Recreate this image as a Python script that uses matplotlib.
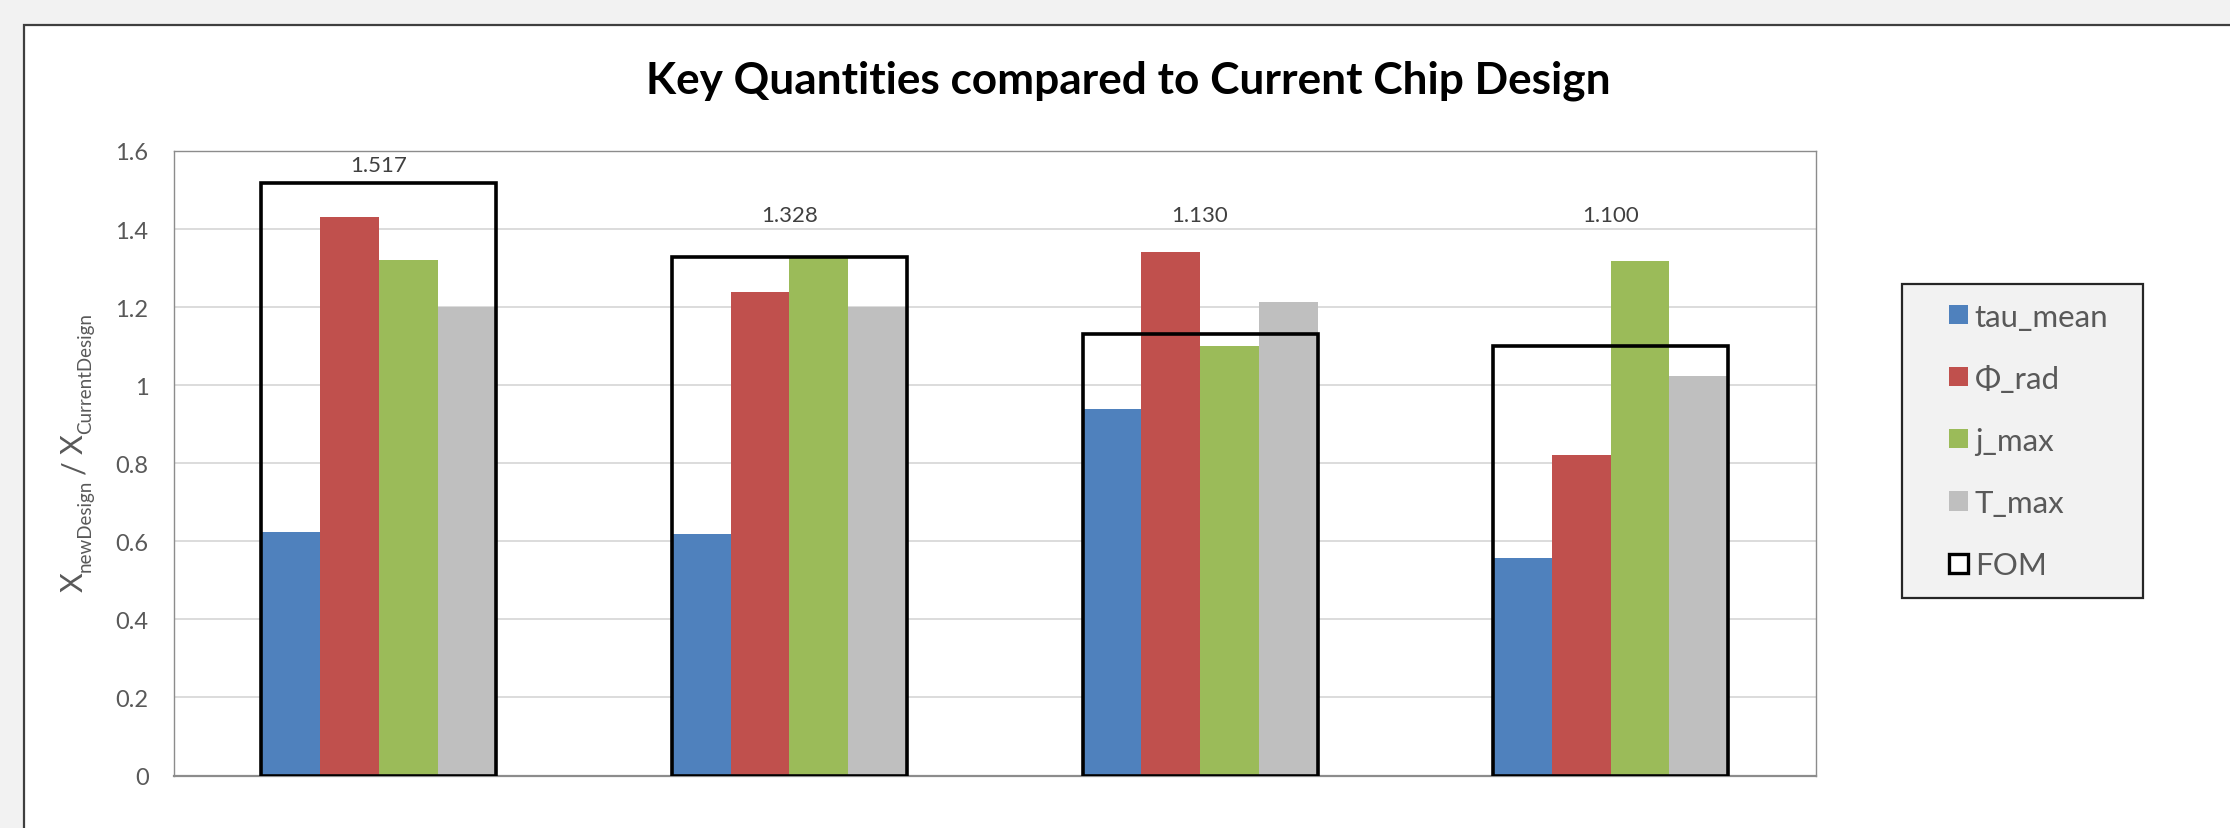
import numpy as np
import matplotlib.pyplot as plt
from matplotlib.patches import Rectangle, Patch
from matplotlib.legend_handler import HandlerPatch

plt.rcParams['font.family'] = ['Lato', 'DejaVu Sans']

# ratio of each quantity, new design / current design
series_names = ['tau_mean', 'Φ_rad', 'j_max', 'T_max']
tau_mean = [0.625, 0.620, 0.938, 0.558]
phi_rad = [1.432, 1.240, 1.342, 0.822]
j_max = [1.320, 1.325, 1.100, 1.317]
t_max = [1.200, 1.200, 1.213, 1.023]
fom = [1.517, 1.328, 1.130, 1.100]
yticks = [0, 0.2, 0.4, 0.6, 0.8, 1, 1.2, 1.4, 1.6]
ytick_labels = ['0', '0.2', '0.4', '0.6', '0.8', '1', '1.2', '1.4', '1.6']

colors = ['#4f81bd', '#c0504d', '#9bbb59', '#bfbfbf']
text_gray = '#595959'

W, H = 2230, 829
fig = plt.figure(figsize=(W / 100, H / 100), dpi=100, facecolor='#f2f2f2')

# white chart area with dark frame, running off the right and bottom edges
fig.patches.append(Rectangle((24 / W, -0.1), 1.2, (H - 26) / H + 0.1,
                             transform=fig.transFigure, facecolor='white',
                             edgecolor='#3f3f3f', linewidth=1.6, zorder=-5))

ax = fig.add_axes([173.5 / W, 52.5 / H, (1816 - 173.5) / W, (776.5 - 152) / H])
ax.set_facecolor('white')

x = np.arange(len(fom))
bw = 0.143
for i, (vals, c) in enumerate(zip([tau_mean, phi_rad, j_max, t_max], colors)):
    ax.bar(x + (i - 1.5) * bw, vals, width=bw, color=c, zorder=2)

# FOM drawn as an open box around each group
ax.bar(x, fom, width=4 * bw, facecolor='none', edgecolor='black',
       linewidth=2.6, zorder=3)
for xi, f in zip(x, fom):
    ax.text(xi, max(f + 0.022, 1.41), f'{f:.3f}', ha='center', va='bottom',
            fontsize=16, color='#404040', zorder=4)

ax.set_xlim(-0.5, 3.5)
ax.set_ylim(0, 1.6)
ax.set_xticks([])
ax.set_yticks(yticks)
ax.set_yticklabels(ytick_labels)
ax.tick_params(axis='y', length=0, pad=18, labelsize=17, labelcolor=text_gray)
ax.yaxis.grid(True, color='#d9d9d9', linewidth=1.3, zorder=0)
ax.set_axisbelow(True)
for s in ax.spines.values():
    s.set_color('#8c8c8c')
    s.set_linewidth(1.0)
ax.spines['bottom'].set_linewidth(1.6)

# y label built piece by piece so the subscripts can be small and dropped
# (text, size in pt, baseline drop px, gap after px)
renderer = fig.canvas.get_renderer()
label_parts = [('X', 22, 0, 0), ('newDesign', 13.5, 8, 6), ('/', 22, 0, 6),
               ('X', 22, 0, 0), ('CurrentDesign', 13.5, 8, 0)]
base_x, pos_y = 83, 592
for s, size, drop, gap in label_parts:
    t = fig.text((base_x + drop) / W, 1 - pos_y / H, s, rotation=90,
                 rotation_mode='anchor', ha='left', va='baseline',
                 fontsize=size, color=text_gray)
    pos_y -= t.get_window_extent(renderer).height + gap

fig.text(1128 / W, 1 - 81 / H, 'Key Quantities compared to Current Chip Design',
         ha='center', va='center', fontsize=31.8, fontweight='bold', color='black')


def square_handle(legend, orig_handle, xdescent, ydescent, width, height, fontsize):
    # small square sitting at the right end of the handle slot
    sq = 13.7
    return Rectangle((-xdescent + width - sq, -ydescent + (height - sq) / 2), sq, sq)


handles = [Patch(facecolor=c) for c in colors]
handles.append(Patch(facecolor='white', edgecolor='black', linewidth=2.4))
leg = fig.legend(handles, series_names + ['FOM'], loc='upper left',
                 bbox_to_anchor=(1902 / W, (H - 603) / H, 241 / W, 318 / H),
                 mode='expand', borderaxespad=0,
                 fontsize=22.5, frameon=True, fancybox=False, framealpha=1,
                 facecolor='#f2f2f2', edgecolor='#262626',
                 handlelength=1.51, handleheight=0.7, handletextpad=0.22,
                 labelspacing=1.09, borderpad=0.6, labelcolor=text_gray,
                 handler_map={Patch: HandlerPatch(patch_func=square_handle)})
leg.get_frame().set_linewidth(1.6)

fig.savefig('out.png', dpi=100, facecolor=fig.get_facecolor())
